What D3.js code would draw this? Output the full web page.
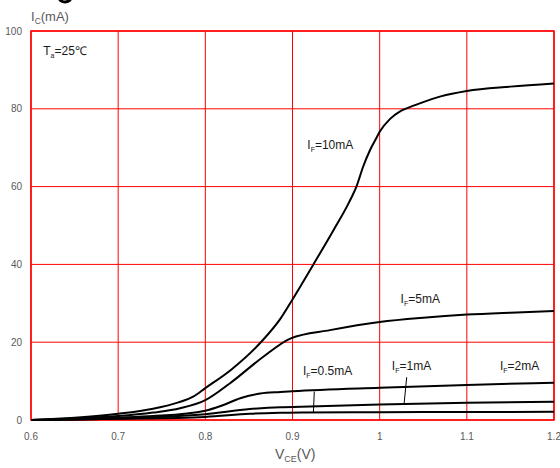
<!DOCTYPE html>
<html>
<head>
<meta charset="utf-8">
<script src="https://cdn.jsdelivr.net/npm/d3@7"></script>
<style>
  html, body { margin: 0; padding: 0; background: #fff; }
  svg { display: block; }
  text { font-family: 'Liberation Sans Narrow', 'Arial Narrow', 'Liberation Sans', sans-serif; }
</style>
</head>
<body>
<div id="chart"></div>
<script>
// Collector current vs. collector-emitter voltage, one curve per forward current
const xTicks = [0.6, 0.7, 0.8, 0.9, 1.0, 1.1, 1.2];
const xTickLabels = ["0.6", "0.7", "0.8", "0.9", "1", "1.1", "1.2"];
const yTicks = [0, 20, 40, 60, 80, 100];
const yTickLabels = ["0", "20", "40", "60", "80", "100"];

const vce10 = [0.6, 0.65, 0.7, 0.74, 0.77, 0.786, 0.8, 0.83, 0.865, 0.886, 0.9, 0.924, 0.947, 0.965, 0.974, 0.981, 0.989, 0.997, 1.0, 1.012, 1.023, 1.031, 1.046, 1.07, 1.1, 1.15, 1.2];
const ic10  = [0, 0.6, 1.6, 2.9, 4.6, 6.0, 8.2, 13.0, 20.3, 26.0, 31.0, 40.0, 48.8, 56.0, 60.4, 65.1, 69.4, 72.8, 74.1, 77.4, 79.3, 80.1, 81.4, 83.2, 84.6, 85.7, 86.5];

const vce5 = [0.6, 0.65, 0.7, 0.74, 0.771, 0.8, 0.828, 0.865, 0.898, 0.943, 1.0, 1.05, 1.1, 1.15, 1.2];
const ic5  = [0, 0.4, 1.0, 1.9, 3.0, 5.1, 9.4, 16.0, 21.0, 23.1, 25.2, 26.3, 27.1, 27.6, 28.0];

const vce2 = [0.6, 0.7, 0.74, 0.8, 0.82, 0.84, 0.863, 0.886, 0.9, 1.0, 1.1, 1.2];
const ic2  = [0, 0.6, 1.0, 2.4, 3.8, 5.6, 6.8, 7.2, 7.4, 8.3, 9.0, 9.6];

const vce1 = [0.6, 0.7, 0.8, 0.851, 0.886, 0.91, 1.0, 1.1, 1.2];
const ic1  = [0, 0.4, 1.5, 2.8, 3.3, 3.4, 4.0, 4.45, 4.7];

const vce05 = [0.6, 0.7, 0.8, 0.851, 0.886, 0.91, 1.0, 1.1, 1.2];
const ic05  = [0, 0.3, 0.8, 1.6, 1.85, 1.95, 2.0, 2.05, 2.1];

const seriesNames = ["IF=10mA", "IF=5mA", "IF=2mA", "IF=1mA", "IF=0.5mA"];
const seriesX = [vce10, vce5, vce2, vce1, vce05];
const seriesY = [ic10, ic5, ic2, ic1, ic05];

// Curve labels: main letter, subscript, remainder, and anchor (V, I)
const labelMain = ["I", "I", "I", "I", "I"];
const labelSub = ["F", "F", "F", "F", "F"];
const labelRest = ["=10mA", "=5mA", "=2mA", "=1mA", "=0.5mA"];
const labelV = [0.917, 1.024, 1.138, 1.014, 0.912];
const labelI = [69.7, 30.0, 12.9, 12.9, 11.6];

// Leader lines from labels to curves: [V1, I1, V2, I2]
const leaders = [
  [0.925, 7.3, 0.924, 2.0],
  [1.031, 11.0, 1.028, 4.1]
];

const width = 560, height = 468;
const svg = d3.select("#chart").append("svg")
  .attr("width", width).attr("height", height);

const x = d3.scaleLinear().domain([0.6, 1.2]).range([31, 554]);
const y = d3.scaleLinear().domain([0, 100]).range([420, 31]);

const red = "#ff0000";
const grey = "#595959";

// Grid
svg.append("g").selectAll("line").data(xTicks).join("line")
  .attr("x1", d => x(d)).attr("x2", d => x(d))
  .attr("y1", y(0)).attr("y2", y(100))
  .attr("stroke", red).attr("stroke-width", 1);
svg.append("g").selectAll("line").data(yTicks).join("line")
  .attr("x1", x(0.6)).attr("x2", x(1.2))
  .attr("y1", d => y(d)).attr("y2", d => y(d))
  .attr("stroke", red).attr("stroke-width", 1);

// Border
svg.append("rect")
  .attr("x", x(0.6)).attr("y", y(100))
  .attr("width", x(1.2) - x(0.6)).attr("height", y(0) - y(100))
  .attr("fill", "none").attr("stroke", red).attr("stroke-width", 1.5);

// Tick labels
svg.append("g").selectAll("text").data(xTicks).join("text")
  .attr("x", d => x(d)).attr("y", 440)
  .attr("text-anchor", "middle")
  .attr("font-size", 10).attr("fill", grey)
  .text((d, i) => xTickLabels[i]);
svg.append("g").selectAll("text").data(yTicks).join("text")
  .attr("x", x(0.6) - 9).attr("y", d => y(d) + 3.5)
  .attr("text-anchor", "end")
  .attr("font-size", 10).attr("fill", grey)
  .text((d, i) => yTickLabels[i]);

// Axis titles
const yt = svg.append("text").attr("x", 31).attr("y", 21)
  .attr("font-size", 13).attr("fill", grey);
yt.append("tspan").text("I");
yt.append("tspan").attr("font-size", 8.5).attr("dy", 3).text("C");
yt.append("tspan").attr("dy", -3).text("(mA)");

const xt = svg.append("text").attr("x", 275).attr("y", 459)
  .attr("font-size", 14).attr("fill", grey);
xt.append("tspan").text("V");
xt.append("tspan").attr("font-size", 9).attr("dy", 3).text("CE");
xt.append("tspan").attr("dy", -3).text("(V)");

// Clipped bowl of a heading stroke at the very top edge
svg.append("ellipse")
  .attr("cx", 65).attr("cy", -3).attr("rx", 6).attr("ry", 5)
  .attr("fill", "none").attr("stroke", "#000").attr("stroke-width", 3);

// Curves
const line = d3.line()
  .x(d => x(d[0])).y(d => y(d[1]))
  .curve(d3.curveMonotoneX);

seriesX.forEach((xs, s) => {
  const pts = xs.map((v, i) => [v, seriesY[s][i]]);
  svg.append("path")
    .attr("d", line(pts))
    .attr("fill", "none")
    .attr("stroke", "#000")
    .attr("stroke-width", 2)
    .attr("stroke-linejoin", "round");
});

// Leader lines
svg.append("g").selectAll("line").data(leaders).join("line")
  .attr("x1", d => x(d[0])).attr("y1", d => y(d[1]))
  .attr("x2", d => x(d[2])).attr("y2", d => y(d[3]))
  .attr("stroke", "#000").attr("stroke-width", 1);

// Curve labels
seriesNames.forEach((name, i) => {
  const t = svg.append("text")
    .attr("x", x(labelV[i])).attr("y", y(labelI[i]))
    .attr("font-size", 12).attr("fill", "#1a1a1a");
  t.append("tspan").text(labelMain[i]);
  t.append("tspan").attr("font-size", 7).attr("dy", 3).text(labelSub[i]);
  t.append("tspan").attr("dy", -3).text(labelRest[i]);
});

// Ambient temperature note
const ta = svg.append("text").attr("x", x(0.614)).attr("y", y(93.8))
  .attr("font-size", 12).attr("fill", "#1a1a1a");
ta.append("tspan").text("T");
ta.append("tspan").attr("font-size", 7).attr("dy", 3).text("a");
ta.append("tspan").attr("dy", -3).text("=25℃");
</script>
</body>
</html>
